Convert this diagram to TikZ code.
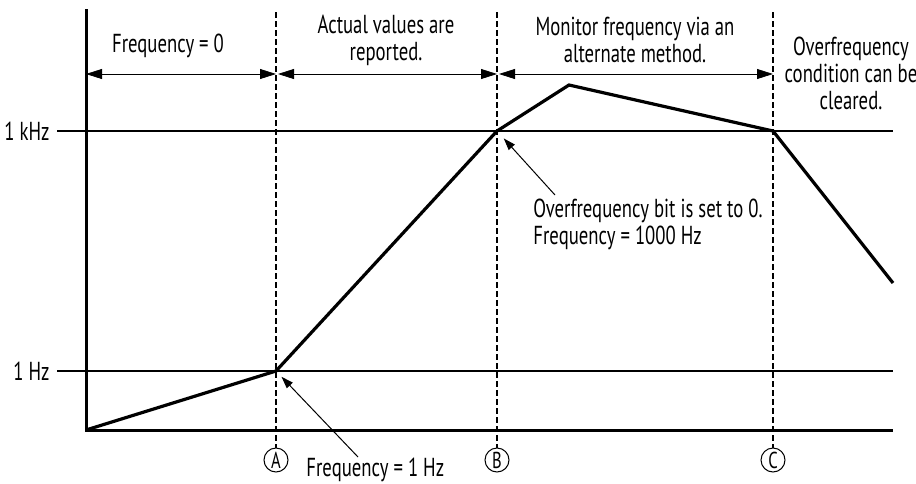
\documentclass[tikz,border=0pt]{standalone}
\usepackage{fontspec}
\setmainfont[FakeStretch=0.72]{PT Sans}
\usetikzlibrary{arrows.meta,positioning}
\tikzset{
  >={Triangle[length=8pt,width=5pt]},
  axis line/.style={line width=1.5pt,line join=miter},
  level line/.style={line width=0.6pt},
  mark line/.style={line width=0.6pt,dash pattern=on 3pt off 1.5pt},
  signal/.style={line width=1.6pt,line join=miter},
  pointer/.style={line width=0.5pt,-{Triangle[length=6pt,width=4pt]}},
  letter/.style={circle,draw,line width=0.5pt,inner sep=0pt,minimum size=12pt,font=\fontsize{11.5}{11.5}\selectfont},
  note/.style={font=\fontsize{13}{13.5}\selectfont,inner sep=0pt}
}
\begin{document}
\begin{tikzpicture}[x=0.5pt,y=-0.5pt]
	\useasboundingbox (0,0) rectangle (916,483);
	%% axes
	\coordinate (O) at (86,430);
	\coordinate (ytop) at (86,9);
	\coordinate (xend) at (893,430);
	\draw[axis line] (ytop) -- (O) -- (xend);

	%% levels
	\node[note,anchor=east] (khz) at (50,131) {1 kHz};
	\node[note,anchor=east] (hz) at (50,371) {1 Hz};
	\coordinate (khzend) at (893,131);
	\coordinate (hzend) at (893,371);
	\draw[level line] (57,131) -- (khzend);
	\draw[level line] (57,371) -- (hzend);

	%% event markers
	\foreach \name/\x in {A/276,B/497,C/773}{
		\node[letter] (mark\name) at (\x,460) {\name};
		\coordinate (top\name) at (\x,12);
		\coordinate (span\name) at (\x,74);
		\draw[mark line] (top\name) -- (mark\name.north);
	}
	\coordinate (spanO) at (86,74);
	\draw[<->] (spanO) -- (spanA);
	\draw[<->] ([xshift=1pt]spanA) -- (spanB);
	\draw[<->] ([xshift=1pt]spanB) -- (spanC);

	%% span labels
	\node[note] (zero) at (168,46) {Frequency = 0};
	\node[note,align=center] (actual) at (386,40) {Actual values are\\reported.};
	\node[note,align=center] (monitor) at (635,40) {Monitor frequency via an\\alternate method.};
	\node[note,align=center] (cleared) at (851,73) {Overfrequency\\condition can be\\cleared.};

	%% frequency curve
	\coordinate (P1) at (276,371);
	\coordinate (P2) at (497,131);
	\coordinate (P3) at (569,85);
	\coordinate (P4) at (773,131);
	\coordinate (P5) at (893,283);
	\draw[signal] (O) -- (P1) -- (P2) -- (P3) -- (P4) -- (P5);

	%% callouts
	\node[note,anchor=west] (onehz) at (306,470) {Frequency = 1 Hz};
	\coordinate (onehztail) at (358,457);
	\draw[pointer,shorten >=4pt] (onehztail) -- (P1);
	\node[note,anchor=west,align=left] (bitzero) at (533,224) {Overfrequency bit is set to 0.\\Frequency = 1000 Hz};
	\coordinate (bitzerotail) at (555,195);
	\draw[pointer,shorten >=5pt] (bitzerotail) -- (P2);
\end{tikzpicture}
\end{document}
